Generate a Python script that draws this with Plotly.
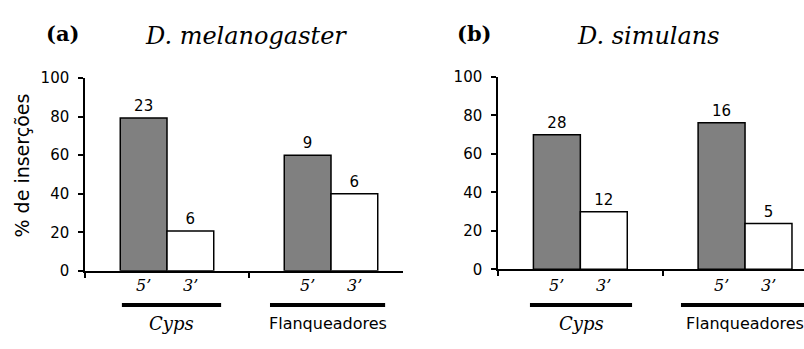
import plotly.graph_objects as go

# ---- data ----
groups = ["Cyps", "Flanqueadores"]
ends = ["5’", "3’"]
species = ["D. melanogaster", "D. simulans"]
panel_tags = ["(a)", "(b)"]

mel_pct_5 = [79.3, 60.0]
mel_pct_3 = [20.7, 40.0]
mel_n_5 = [23, 9]
mel_n_3 = [6, 6]

sim_pct_5 = [70.0, 76.2]
sim_pct_3 = [30.0, 23.8]
sim_n_5 = [28, 16]
sim_n_3 = [12, 5]

y_ticks = [0, 20, 40, 60, 80, 100]
group_pos = [0.5, 1.5]

# ---- layout constants ----
W, H = 804, 349
BW = 0.285
GRAY = "#808080"
SANS = "DejaVu Sans"
SERIF = "DejaVu Serif"


def px_x(p):
    return p / W


def px_y(p):
    return 1 - p / H


panels = [
    dict(xa="x", ya="y", xdom=(85, 403), ydom=(276, 73), xr=[0, 1.939],
         p5=mel_pct_5, p3=mel_pct_3, n5=mel_n_5, n3=mel_n_3,
         tag_x=62, title_x=246,
         brackets=[(0.225, 0.83), (1.128, 1.83)]),
    dict(xa="x2", ya="y2", xdom=(498, 804), ydom=(274.5, 71.7), xr=[0, 1.858],
         p5=sim_pct_5, p3=sim_pct_3, n5=sim_n_5, n3=sim_n_3,
         tag_x=474, title_x=648,
         brackets=[(0.194, 0.814), (1.111, 2.05)]),
]

fig = go.Figure()
annotations = []
shapes = []
layout_axes = {}

for i, P in enumerate(panels):
    for pct, n, off, col in [(P["p5"], P["n5"], -BW, GRAY), (P["p3"], P["n3"], 0, "white")]:
        fig.add_trace(go.Bar(
            x=group_pos, y=pct, width=BW, offset=off,
            marker=dict(color=col, line=dict(color="black", width=1.5)),
            text=[str(v) for v in n], textposition="outside",
            textfont=dict(family=SANS, size=15, color="black"),
            constraintext="none", cliponaxis=False,
            xaxis=P["xa"], yaxis=P["ya"], showlegend=False, hoverinfo="skip",
        ))
    xkey = "xaxis" if i == 0 else "xaxis2"
    ykey = "yaxis" if i == 0 else "yaxis2"
    layout_axes[xkey] = dict(
        domain=[px_x(P["xdom"][0]), px_x(P["xdom"][1])], range=P["xr"],
        anchor=P["ya"], showline=True, linecolor="black", linewidth=1.5,
        ticks="outside", ticklen=5, tickwidth=1.5, tickcolor="black",
        tickvals=[0, 1, 2], showticklabels=False, showgrid=False, zeroline=False,
        fixedrange=True,
    )
    layout_axes[ykey] = dict(
        domain=[px_y(P["ydom"][0]), px_y(P["ydom"][1])], range=[0, 100],
        anchor=P["xa"], showline=True, linecolor="black", linewidth=1.5,
        ticks="outside", ticklen=5, tickwidth=1.5, tickcolor="black",
        tickvals=y_ticks, ticktext=[str(t) for t in y_ticks],
        tickfont=dict(family=SANS, size=15, color="black"),
        ticklabelstandoff=6,
        showgrid=False, zeroline=False, fixedrange=True,
    )
    # end labels under bars
    for g in group_pos:
        for lab, dx in zip(ends, [-BW / 2, BW / 2]):
            annotations.append(dict(
                x=g + dx, y=px_y(292), xref=P["xa"], yref="paper",
                text=lab, showarrow=False,
                font=dict(family=SERIF, size=16, color="black", style="italic"),
                xanchor="center", yanchor="middle",
            ))
    # brackets and group labels
    for (x0, x1), gname in zip(P["brackets"], groups):
        shapes.append(dict(type="line", xref=P["xa"], yref="paper",
                           x0=x0, x1=x1, y0=px_y(312), y1=px_y(312),
                           line=dict(color="black", width=4)))
        italic = gname == "Cyps"
        cx = (x0 + x1) / 2 if i == 0 or italic else group_pos[1]
        annotations.append(dict(
            x=cx, y=px_y(332), xref=P["xa"], yref="paper",
            text=gname, showarrow=False,
            font=dict(family=SERIF if italic else SANS, size=18 if italic else 16,
                      color="black", style="italic" if italic else "normal"),
            xanchor="center", yanchor="middle",
        ))
    # titles
    annotations.append(dict(
        x=px_x(P["tag_x"]), y=px_y(26), xref="paper", yref="paper",
        text="<b>" + panel_tags[i] + "</b>", showarrow=False,
        font=dict(family=SERIF, size=21, color="black"),
        xanchor="center", yanchor="middle",
    ))
    annotations.append(dict(
        x=px_x(P["title_x"]), y=px_y(28), xref="paper", yref="paper",
        text=species[i], showarrow=False,
        font=dict(family=SERIF, size=24, color="black", style="italic"),
        xanchor="center", yanchor="middle",
    ))

annotations.append(dict(
    x=px_x(22), y=px_y(165), xref="paper", yref="paper",
    text="% de inserções", showarrow=False, textangle=-90,
    font=dict(family=SANS, size=19, color="black"),
    xanchor="center", yanchor="middle",
))

fig.update_layout(
    width=W, height=H, margin=dict(l=0, r=0, t=0, b=0),
    paper_bgcolor="white", plot_bgcolor="white",
    annotations=annotations, shapes=shapes, showlegend=False,
    **layout_axes,
)

fig.write_html("out.html", config={"displayModeBar": False})
